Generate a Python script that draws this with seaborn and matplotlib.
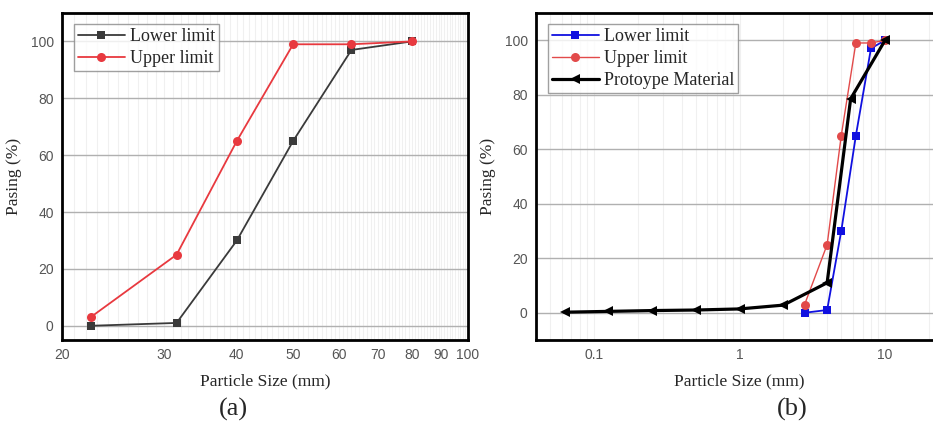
import numpy as np
import pandas as pd
import matplotlib
matplotlib.use("Agg")
import matplotlib.pyplot as plt
import seaborn as sns
from matplotlib.ticker import FixedLocator, NullFormatter, LogLocator, MultipleLocator

# ---------------- data ----------------
a_size = [22.4, 31.5, 40, 50, 63, 80]
a_lower = [0, 1, 30, 65, 97, 100]
a_upper = [3, 25, 65, 99, 99, 100]

b_size = [2.8, 4, 5, 6.3, 8, 10]
b_lower = [0, 1, 30, 65, 97, 100]
b_upper = [3, 25, 65, 99, 99, 100]

proto_size = [0.063, 0.125, 0.25, 0.5, 1, 2, 4, 5.8, 10]
proto_pass = [0.2, 0.5, 0.8, 1.0, 1.4, 2.8, 11, 78.5, 100]

a_xticks = [20, 30, 40, 50, 60, 70, 80, 90, 100]
y_ticks = [0, 20, 40, 60, 80, 100]

sns.set_style("white")
plt.rcParams['font.family'] = ['Liberation Serif', 'DejaVu Serif']

W, H = 933, 423
fig = plt.figure(figsize=(W / 100, H / 100), dpi=100)

def ax_rect(l, r, t, b):
    return [l / W, (H - b) / H, (r - l) / W, (b - t) / H]

def style_axes(ax):
    for s in ax.spines.values():
        s.set_linewidth(2.0)
        s.set_color('black')
    ax.tick_params(axis='both', which='major', direction='in', length=5, width=1.3,
                   colors='black', labelcolor='#555555', labelsize=10, pad=6)
    ax.tick_params(axis='both', which='minor', direction='in', length=2.5, width=1.0,
                   colors='black')
    for lab in ax.get_xticklabels() + ax.get_yticklabels():
        lab.set_family('Liberation Sans')
    ax.set_yticks(y_ticks)
    ax.yaxis.set_minor_locator(MultipleLocator(10))
    ax.yaxis.grid(True, which='major', color='#b0b0b0', lw=1.0)
    ax.xaxis.grid(True, which='both', color='#f0f0f0', lw=0.8)
    ax.set_axisbelow(True)
    ax.set_xlabel('Particle Size (mm)', fontsize=12.5, labelpad=8)
    ax.set_ylabel('Pasing (%)', fontsize=12.5, labelpad=6)

leg_kw = dict(loc='upper left', frameon=True, fancybox=False, edgecolor='#888888',
              fontsize=13, handlelength=2.6, handletextpad=0.3, borderpad=0.2,
              labelspacing=0.28, borderaxespad=0)

# ---------------- panel (a) ----------------
ax1 = fig.add_axes(ax_rect(62, 468, 13, 340))
dfa = pd.DataFrame({'size': a_size, 'lower': a_lower, 'upper': a_upper})
sns.lineplot(data=dfa, x='size', y='lower', ax=ax1, color='#3a3a3a', lw=1.3,
             marker='s', markersize=6, markeredgewidth=0, label='Lower limit',
             estimator=None, sort=False)
sns.lineplot(data=dfa, x='size', y='upper', ax=ax1, color='#e8393f', lw=1.3,
             marker='o', markersize=6.5, markeredgewidth=0, label='Upper limit',
             estimator=None, sort=False)
ax1.set_xscale('log')
ax1.set_xlim(20, 100)
ax1.set_ylim(-5, 110)
ax1.xaxis.set_major_locator(FixedLocator(a_xticks))
ax1.set_xticklabels([str(v) for v in a_xticks])
ax1.xaxis.set_minor_locator(FixedLocator([v for v in range(21, 100) if v % 10 != 0]))
ax1.xaxis.set_minor_formatter(NullFormatter())
style_axes(ax1)
leg1 = ax1.legend(bbox_to_anchor=(0.03, 0.965), **leg_kw)
leg1.get_frame().set_linewidth(1.0)

# ---------------- panel (b) ----------------
ax2 = fig.add_axes(ax_rect(536, 943, 13, 340))
dfb = pd.DataFrame({'size': b_size, 'lower': b_lower, 'upper': b_upper})
dfp = pd.DataFrame({'size': proto_size, 'pass': proto_pass})
sns.lineplot(data=dfb, x='size', y='lower', ax=ax2, color='#1010e0', lw=1.3,
             marker='s', markersize=6, markeredgewidth=0, label='Lower limit',
             estimator=None, sort=False)
sns.lineplot(data=dfb, x='size', y='upper', ax=ax2, color='#e24a4a', lw=1.0,
             marker='o', markersize=6.5, markeredgewidth=0, label='Upper limit',
             estimator=None, sort=False)
sns.lineplot(data=dfp, x='size', y='pass', ax=ax2, color='black', lw=2.3,
             marker='<', markersize=7.5, markeredgewidth=0, label='Protoype Material',
             estimator=None, sort=False)
ax2.set_xscale('log')
ax2.set_xlim(0.04, 25)
ax2.set_ylim(-10, 110)
ax2.xaxis.set_major_locator(FixedLocator([0.1, 1, 10]))
ax2.set_xticklabels(['0.1', '1', '10'])
ax2.xaxis.set_minor_locator(LogLocator(base=10, subs=np.arange(2, 10)))
ax2.xaxis.set_minor_formatter(NullFormatter())
style_axes(ax2)
leg2 = ax2.legend(bbox_to_anchor=(0.03, 0.965), **leg_kw)
leg2.get_frame().set_linewidth(1.0)

# captions
fig.text(233 / W, 1 - 409 / H, '(a)', ha='center', va='center', fontsize=19)
fig.text(792 / W, 1 - 409 / H, '(b)', ha='center', va='center', fontsize=19)

fig.savefig('out.png', dpi=100)
